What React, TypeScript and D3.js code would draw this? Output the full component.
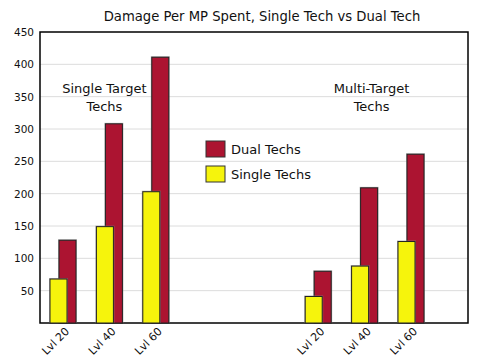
import React, { useEffect, useRef } from "react";
import * as d3 from "d3";

// half-width slots along the x axis; the unnamed ones keep the gap between groups
const slots = ["s20", "a", "s40", "b", "s60", "c", "d", "e", "f", "g", "h", "m20", "i", "m40", "j", "m60"];
const barSlots = ["s20", "s40", "s60", "m20", "m40", "m60"];
const tickLabels = ["Lvl 20", "Lvl 40", "Lvl 60", "Lvl 20", "Lvl 40", "Lvl 60"];
const dualTechs = [128, 308, 411, 80, 209, 261];
const singleTechs = [68, 149, 203, 41, 88, 126];
const yTicks = [50, 100, 150, 200, 250, 300, 350, 400, 450];

const RED = "#AC1431";
const YELLOW = "#F6F40C";
const FONT = "DejaVu Sans, Verdana, sans-serif";

function App() {
  const svgRef = useRef<SVGSVGElement>(null);
  const width = 504;
  const height = 360;
  const margin = { top: 32, right: 36, bottom: 37, left: 40 };
  const innerWidth = width - margin.left - margin.right;
  const innerHeight = height - margin.top - margin.bottom;

  useEffect(() => {
    const svg = d3.select(svgRef.current);
    svg.selectAll("*").remove();

    const x = d3.scalePoint().domain(slots).range([23, innerWidth - 57]);
    const y = d3.scaleLinear().domain([0, 450]).range([innerHeight, 0]);
    const barW = 17;
    const offset = 9;

    svg
      .append("text")
      .attr("x", 262)
      .attr("y", 21)
      .attr("text-anchor", "middle")
      .attr("font-family", FONT)
      .attr("font-size", 13.2)
      .attr("fill", "#111")
      .text("Damage Per MP Spent, Single Tech vs Dual Tech");

    const g = svg
      .append("g")
      .attr("transform", `translate(${margin.left},${margin.top})`);

    // gridlines
    g.selectAll(".grid")
      .data(yTicks.slice(0, -1))
      .enter()
      .append("line")
      .attr("x1", 0)
      .attr("x2", innerWidth)
      .attr("y1", (d) => y(d))
      .attr("y2", (d) => y(d))
      .attr("stroke", "#dcdcdc")
      .attr("stroke-width", 1);

    // frame
    g.append("rect")
      .attr("x", 0)
      .attr("y", 0)
      .attr("width", innerWidth)
      .attr("height", innerHeight)
      .attr("fill", "none")
      .attr("stroke", "#000")
      .attr("stroke-width", 1.5);

    // y tick labels
    g.selectAll(".ytick")
      .data(yTicks)
      .enter()
      .append("text")
      .attr("x", -6)
      .attr("y", (d) => y(d) + 4)
      .attr("text-anchor", "end")
      .attr("font-family", FONT)
      .attr("font-size", 10.5)
      .attr("fill", "#111")
      .text((d) => d);

    const cx = (i: number) => x(barSlots[i]) as number;

    const drawBars = (vals: number[], color: string, dx: number) => {
      const grp = g.append("g");
      grp
        .selectAll(".shadow")
        .data(vals)
        .enter()
        .append("rect")
        .attr("x", (d, i) => cx(i) + dx - 1)
        .attr("y", (d) => y(d) - 1)
        .attr("width", barW + 2)
        .attr("height", (d) => innerHeight - y(d) + 1)
        .attr("fill", "#888")
        .attr("opacity", 0.6);
      grp
        .selectAll(".bar")
        .data(vals)
        .enter()
        .append("rect")
        .attr("x", (d, i) => cx(i) + dx)
        .attr("y", (d) => y(d))
        .attr("width", barW)
        .attr("height", (d) => innerHeight - y(d))
        .attr("fill", color)
        .attr("stroke", "#222")
        .attr("stroke-width", 1);
    };
    // dual techs sit behind, shifted right
    drawBars(dualTechs, RED, -barW / 2 + offset / 2);
    drawBars(singleTechs, YELLOW, -barW / 2 - offset / 2);

    // x tick labels
    g.selectAll(".xtick")
      .data(tickLabels)
      .enter()
      .append("text")
      .attr(
        "transform",
        (d, i) => `translate(${cx(i) + 7},${innerHeight + 9}) rotate(-45)`
      )
      .attr("text-anchor", "end")
      .attr("font-family", FONT)
      .attr("font-size", 11)
      .attr("fill", "#111")
      .text((d) => d);

    // group annotations
    const notes = [
      { lines: ["Single Target", "Techs"], at: "s40", dx: -5 },
      { lines: ["Multi-Target", "Techs"], at: "m40", dx: 7 },
    ];
    notes.forEach((n) => {
      const t = g
        .append("text")
        .attr("text-anchor", "middle")
        .attr("font-family", FONT)
        .attr("font-size", 13)
        .attr("fill", "#111");
      n.lines.forEach((line, k) => {
        t.append("tspan")
          .attr("x", (x(n.at) as number) + n.dx)
          .attr("y", 61 + k * 18)
          .text(line);
      });
    });

    // legend
    const legend = g.append("g").attr("transform", "translate(166,109)");
    [
      { name: "Dual Techs", color: RED },
      { name: "Single Techs", color: YELLOW },
    ].forEach((item, i) => {
      legend
        .append("rect")
        .attr("x", 0)
        .attr("y", i * 25)
        .attr("width", 19)
        .attr("height", 16)
        .attr("fill", item.color)
        .attr("stroke", "#333");
      legend
        .append("text")
        .attr("x", 25)
        .attr("y", i * 25 + 13)
        .attr("font-family", FONT)
        .attr("font-size", 13)
        .attr("fill", "#111")
        .text(item.name);
    });
  }, [innerWidth, innerHeight, margin.left, margin.top]);

  return (
    <svg
      ref={svgRef}
      width={width}
      height={height}
      style={{ position: "absolute", left: 0, top: 0, background: "#fff" }}
    ></svg>
  );
}

export default App;
